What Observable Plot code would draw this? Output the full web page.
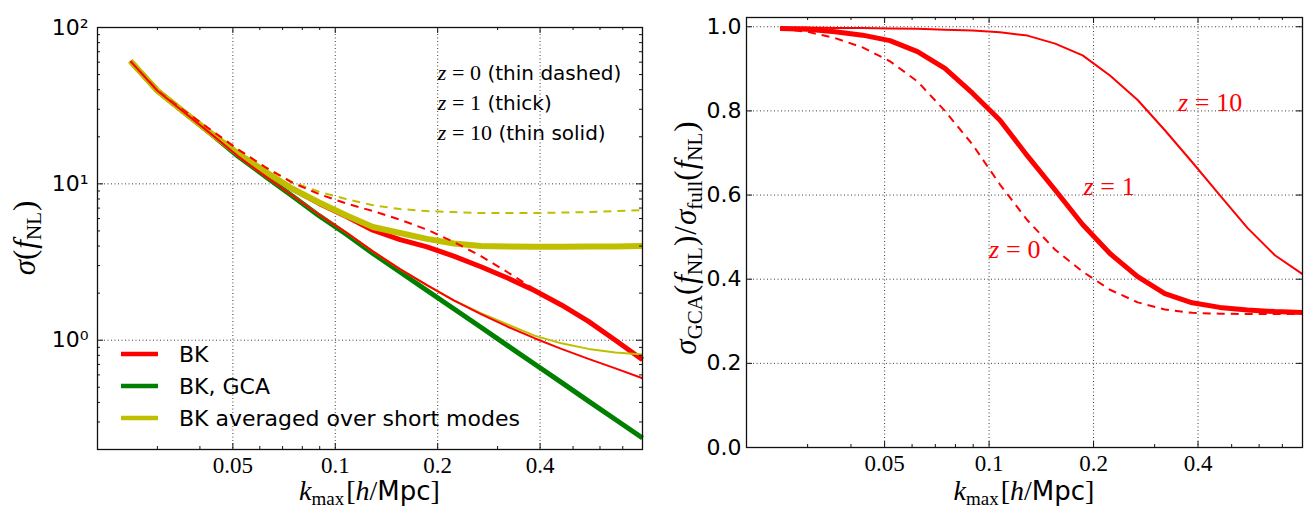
<!DOCTYPE html>
<html><head><meta charset="utf-8">
<script src="https://cdn.jsdelivr.net/npm/d3@7"></script>
<script src="https://cdn.jsdelivr.net/npm/@observablehq/plot@0.6"></script>
<style>
html,body{margin:0;padding:0;background:#fff;}
#wrap{position:relative;width:1304px;height:510px;display:flex;overflow:hidden;}
.panel{position:relative;width:652px;height:510px;}
.panel svg{display:block;}
</style></head>
<body><div id="wrap"><div class="panel" id="left"></div><div class="panel" id="right"></div></div>
<script>
const SERIF = "'Liberation Serif','DejaVu Serif',serif";
const SANS = "'DejaVu Sans','Liberation Sans',sans-serif";
const RED = "#ff0000", GREEN = "#008000", YELLOW = "#bfbf00";

// k_max grid [h/Mpc]
const kmax = [0.025, 0.030, 0.036, 0.0432, 0.0518, 0.0622, 0.0746, 0.0896, 0.1075, 0.129,
              0.155, 0.186, 0.223, 0.268, 0.321, 0.385, 0.462, 0.555, 0.666, 0.8];

// Left panel: sigma(f_NL)
const bkZ0   = [61, 39.6, 29.3, 22.0, 16.6, 12.8, 10.2, 8.6, 7.5, 6.7, 5.9, 5.1, 4.25, 3.45, 2.72, 2.12, 1.68, 1.32, 1.0, 0.745];
const bkZ1   = [61, 39.4, 28.7, 21.0, 15.6, 12.0, 9.3, 7.5, 6.2, 5.05, 4.4, 3.95, 3.45, 2.95, 2.5, 2.08, 1.68, 1.32, 1.0, 0.75];
const bkZ10  = [61, 39.4, 28.6, 20.8, 15.0, 11.2, 8.45, 6.35, 4.9, 3.7, 2.85, 2.25, 1.80, 1.47, 1.22, 1.03, 0.88, 0.76, 0.66, 0.571];
const gca    = [61, 39.4, 28.6, 20.8, 15.0, 11.2, 8.4, 6.26, 4.78, 3.59, 2.73, 2.08, 1.59, 1.21, 0.924, 0.704, 0.537, 0.408, 0.311, 0.237];
const avgZ0  = [61, 39.6, 29.3, 22.0, 16.6, 12.8, 10.3, 8.9, 8.0, 7.3, 6.9, 6.7, 6.6, 6.5, 6.5, 6.5, 6.55, 6.6, 6.7, 6.8];
const avgZ1  = [61, 39.4, 28.7, 21.0, 15.6, 12.0, 9.35, 7.6, 6.3, 5.3, 4.85, 4.45, 4.15, 4.0, 3.97, 3.96, 3.96, 3.97, 3.98, 4.0];
const avgZ10 = [61, 39.4, 28.6, 20.8, 15.0, 11.2, 8.45, 6.35, 4.9, 3.7, 2.85, 2.25, 1.80, 1.49, 1.26, 1.07, 0.955, 0.88, 0.835, 0.81];

// Right panel: sigma_GCA / sigma_full
const ratioZ0  = [0.995, 0.988, 0.973, 0.951, 0.918, 0.87, 0.80, 0.72, 0.625, 0.54, 0.47, 0.418, 0.375, 0.345, 0.328, 0.320, 0.318, 0.317, 0.317, 0.317];
const ratioZ1  = [0.996, 0.994, 0.988, 0.980, 0.967, 0.941, 0.901, 0.842, 0.778, 0.693, 0.612, 0.530, 0.461, 0.406, 0.366, 0.344, 0.333, 0.327, 0.323, 0.321];
const ratioZ10 = [0.998, 0.998, 0.997, 0.997, 0.996, 0.995, 0.993, 0.991, 0.987, 0.979, 0.960, 0.932, 0.884, 0.826, 0.754, 0.678, 0.600, 0.522, 0.457, 0.412];

// ticks
const xTickValues = [0.05, 0.1, 0.2, 0.4];
const xTickLabels = ["0.05", "0.1", "0.2", "0.4"];
const xMinorValues = [0.03, 0.04, 0.06, 0.07, 0.08, 0.09, 0.3, 0.5, 0.6, 0.7];
const leftYTicks = [1, 10, 100];
const leftYTickLabels = ["10\u2070", "10\u00B9", "10\u00B2"];
const leftYMinor = [0.3, 0.4, 0.5, 0.6, 0.7, 0.8, 0.9, 2, 3, 4, 5, 6, 7, 8, 9, 20, 30, 40, 50, 60, 70, 80, 90];
const rightYTicks = [0, 0.2, 0.4, 0.6, 0.8, 1.0];
const rightYTickLabels = ["0.0", "0.2", "0.4", "0.6", "0.8", "1.0"];

// legend and annotations
const legendLabels = ["BK", "BK, GCA", "BK averaged over short modes"];
const legendColors = [RED, GREEN, YELLOW];
const notesLeft = [
  {k: 0.2, v: 46, z: "0", note: " (thin dashed)"},
  {k: 0.2, v: 29.7, z: "1", note: " (thick)"},
  {k: 0.2, v: 19.1, z: "10", note: " (thin solid)"}
];
const notesRight = [
  {k: 0.35, v: 0.8, z: "10"},
  {k: 0.187, v: 0.6, z: "1"},
  {k: 0.1, v: 0.45, z: "0"}
];

const rows = ys => kmax.map((k, i) => ({k, v: ys[i]}));
const gridStyle = {stroke: "#000", strokeOpacity: 0.85, strokeWidth: 0.9, strokeDasharray: "1,2.5"};
const cap = {strokeLinecap: "butt", strokeLinejoin: "round"};

function gridMarks(xs, ys) {
  return [
    Plot.ruleX(xs.slice(), {x: d => d, ...gridStyle}),
    Plot.ruleY(ys.slice(), {y: d => d, ...gridStyle})
  ];
}
function frameTicks(xs, ys, plotW, plotH, len) {
  return [
    Plot.tickX(xs.slice(), {x: d => d, insetTop: plotH - len, stroke: "#111"}),
    Plot.tickX(xs.slice(), {x: d => d, insetBottom: plotH - len, stroke: "#111"}),
    Plot.tickY(ys.slice(), {y: d => d, insetRight: plotW - len, stroke: "#111"}),
    Plot.tickY(ys.slice(), {y: d => d, insetLeft: plotW - len, stroke: "#111"})
  ];
}
function xLabels() {
  return Plot.text(xTickValues.slice(), {x: d => d, text: (d, i) => xTickLabels[i],
    frameAnchor: "bottom", lineAnchor: "top", dy: 7, fontFamily: SERIF, fontSize: 23, fill: "#000"});
}
function yLabels(vals, labels, pad) {
  return Plot.text(vals.slice(), {y: d => d, text: (d, i) => labels[i],
    frameAnchor: "left", textAnchor: "end", lineAnchor: "middle", dx: -pad, fontFamily: SANS, fontSize: 22, fill: "#000"});
}

function rich(el, parts) {
  const t = d3.select(el);
  t.text(null);
  for (const p of parts) {
    const s = t.append("tspan").text(p.t);
    if (p.f) s.attr("font-family", p.f);
    if (p.i) s.attr("font-style", "italic");
    if (p.s) s.attr("font-size", p.s);
    if (p.dy) s.attr("dy", p.dy);
    if (p.dx) s.attr("dx", p.dx);
  }
}
const zParts = (z, size) => [
  {t: "z", f: SERIF, i: true, s: size},
  {t: "=", f: SERIF, dx: "0.26em", s: size},
  {t: z, f: SERIF, dx: "0.26em", s: size}
];

// ---------------- Left panel ----------------
const L = {W: 652, H: 510, mL: 97, mR: 10, mT: 27, mB: 61};
const LpW = L.W - L.mL - L.mR, LpH = L.H - L.mT - L.mB;
const left = Plot.plot({
  width: L.W, height: L.H,
  marginLeft: L.mL, marginRight: L.mR, marginTop: L.mT, marginBottom: L.mB,
  style: {background: "#fff", overflow: "visible", fontFamily: SANS},
  x: {type: "log", domain: [0.02, 0.8], label: null, axis: null},
  y: {type: "log", domain: [0.2, 100], label: null, axis: null},
  marks: [
    ...gridMarks(xTickValues, [1, 10]),
    Plot.line(rows(gca), {x: "k", y: "v", stroke: GREEN, strokeWidth: 5, ...cap}),
    Plot.line(rows(bkZ1), {x: "k", y: "v", stroke: RED, strokeWidth: 5, ...cap}),
    Plot.line(rows(avgZ1), {x: "k", y: "v", stroke: YELLOW, strokeWidth: 6, ...cap}),
    Plot.line(rows(avgZ0), {x: "k", y: "v", stroke: YELLOW, strokeWidth: 2, strokeDasharray: "8,6", ...cap}),
    Plot.line(rows(bkZ0), {x: "k", y: "v", stroke: RED, strokeWidth: 2, strokeDasharray: "8,6", ...cap}),
    Plot.line(rows(avgZ10), {x: "k", y: "v", stroke: YELLOW, strokeWidth: 2, ...cap}),
    Plot.line(rows(bkZ10), {x: "k", y: "v", stroke: RED, strokeWidth: 2, ...cap}),
    Plot.frame({stroke: "#111", strokeWidth: 1.3}),
    ...frameTicks(xTickValues, [1, 10], LpW, LpH, 6),
    ...frameTicks(xMinorValues, leftYMinor, LpW, LpH, 3),
    xLabels(),
    yLabels(leftYTicks, leftYTickLabels, 9),
    Plot.text(notesLeft, {x: "k", y: "v", text: d => "z=" + d.z + d.note, textAnchor: "start",
      lineAnchor: "bottom", fontSize: 20, fill: "#000"})
  ]
});
document.getElementById("left").appendChild(left);

// ---------------- Right panel ----------------
const R = {W: 652, H: 510, mL: 94, mR: 2, mT: 17, mB: 63};
const RpW = R.W - R.mL - R.mR, RpH = R.H - R.mT - R.mB;
const right = Plot.plot({
  width: R.W, height: R.H,
  marginLeft: R.mL, marginRight: R.mR, marginTop: R.mT, marginBottom: R.mB,
  style: {background: "#fff", overflow: "visible", fontFamily: SANS},
  x: {type: "log", domain: [0.02, 0.8], label: null, axis: null},
  y: {type: "linear", domain: [0, 1.022], label: null, axis: null},
  marks: [
    ...gridMarks(xTickValues, rightYTicks.slice(1)),
    Plot.line(rows(ratioZ0), {x: "k", y: "v", stroke: RED, strokeWidth: 2, strokeDasharray: "8,6", ...cap}),
    Plot.line(rows(ratioZ1), {x: "k", y: "v", stroke: RED, strokeWidth: 5, ...cap}),
    Plot.line(rows(ratioZ10), {x: "k", y: "v", stroke: RED, strokeWidth: 2, ...cap}),
    Plot.frame({stroke: "#111", strokeWidth: 1.3}),
    ...frameTicks(xTickValues, rightYTicks, RpW, RpH, 6),
    ...frameTicks(xMinorValues, [], RpW, RpH, 3),
    xLabels(),
    yLabels(rightYTicks, rightYTickLabels, 5),
    Plot.text(notesRight, {x: "k", y: "v", text: d => "z=" + d.z, textAnchor: "start",
      lineAnchor: "bottom", fontSize: 26, fill: RED})
  ]
});
document.getElementById("right").appendChild(right);

// ---------- rich text post-processing ----------
function richNotes(svg, notes, withNote, size) {
  const els = d3.select(svg).selectAll("text").filter(function () {
    return /^z=/.test(this.textContent);
  }).nodes();
  els.forEach((el, i) => {
    const n = notes[i];
    if (!n) return;
    rich(el, withNote ? [...zParts(n.z, size), {t: n.note, f: SANS}] : zParts(n.z, size));
  });
}
richNotes(left, notesLeft, true, 22);
richNotes(right, notesRight, false, 26);

function xTitle(svg, cx) {
  const t = d3.select(svg).append("text").attr("x", cx).attr("y", 500)
    .attr("text-anchor", "middle").attr("font-size", 28).attr("fill", "#000");
  rich(t.node(), [
    {t: "k", f: SERIF, i: true},
    {t: "max", f: SERIF, s: 19, dy: 5},
    {t: "[", f: SERIF, dy: -5, dx: 2},
    {t: "h", f: SERIF, i: true},
    {t: "/", f: SERIF},
    {t: "Mpc", f: SANS, s: 26},
    {t: "]", f: SERIF}
  ]);
}
function yTitle(svg, x, cy, size, parts) {
  const t = d3.select(svg).append("text").attr("transform", `translate(${x},${cy}) rotate(-90)`)
    .attr("text-anchor", "middle").attr("font-size", size).attr("fill", "#000");
  rich(t.node(), parts);
}
const sub = (txt, s, dy) => [{t: txt, f: SERIF, s, dy}];
xTitle(left, (L.mL + L.W - L.mR) / 2);
xTitle(right, (R.mL + R.W - R.mR) / 2);
yTitle(left, 35, L.mT + LpH / 2, 31, [
  {t: "\u03C3", f: SERIF, i: true}, {t: "(", f: SERIF}, {t: "f", f: SERIF, i: true, dx: 1},
  ...sub("NL", 21, 6), {t: ")", f: SERIF, dy: -6, dx: 1}
]);
yTitle(right, 44, R.mT + RpH / 2 + 6, 31, [
  {t: "\u03C3", f: SERIF, i: true}, ...sub("GCA", 21, 6), {t: "(", f: SERIF, dy: -6},
  {t: "f", f: SERIF, i: true, dx: 1}, ...sub("NL", 21, 6), {t: ")", f: SERIF, dy: -6, dx: 1},
  {t: "/", f: SERIF, dx: 1},
  {t: "\u03C3", f: SERIF, i: true, dx: 1}, ...sub("full", 21, 6), {t: "(", f: SERIF, dy: -6},
  {t: "f", f: SERIF, i: true, dx: 1}, ...sub("NL", 21, 6), {t: ")", f: SERIF, dy: -6, dx: 1}
]);

// ---------- legend (left panel, lower left) ----------
const lg = d3.select(left).append("g");
legendLabels.forEach((lab, i) => {
  const y = 354 + i * 32;
  lg.append("line").attr("x1", L.mL + 24).attr("x2", L.mL + 61).attr("y1", y).attr("y2", y)
    .attr("stroke", legendColors[i]).attr("stroke-width", 4.5);
  lg.append("text").attr("x", L.mL + 82).attr("y", y).attr("dy", "0.36em")
    .attr("text-anchor", "start")
    .attr("font-family", SANS).attr("font-size", 22).attr("fill", "#000").text(lab);
});
</script>
</body></html>
